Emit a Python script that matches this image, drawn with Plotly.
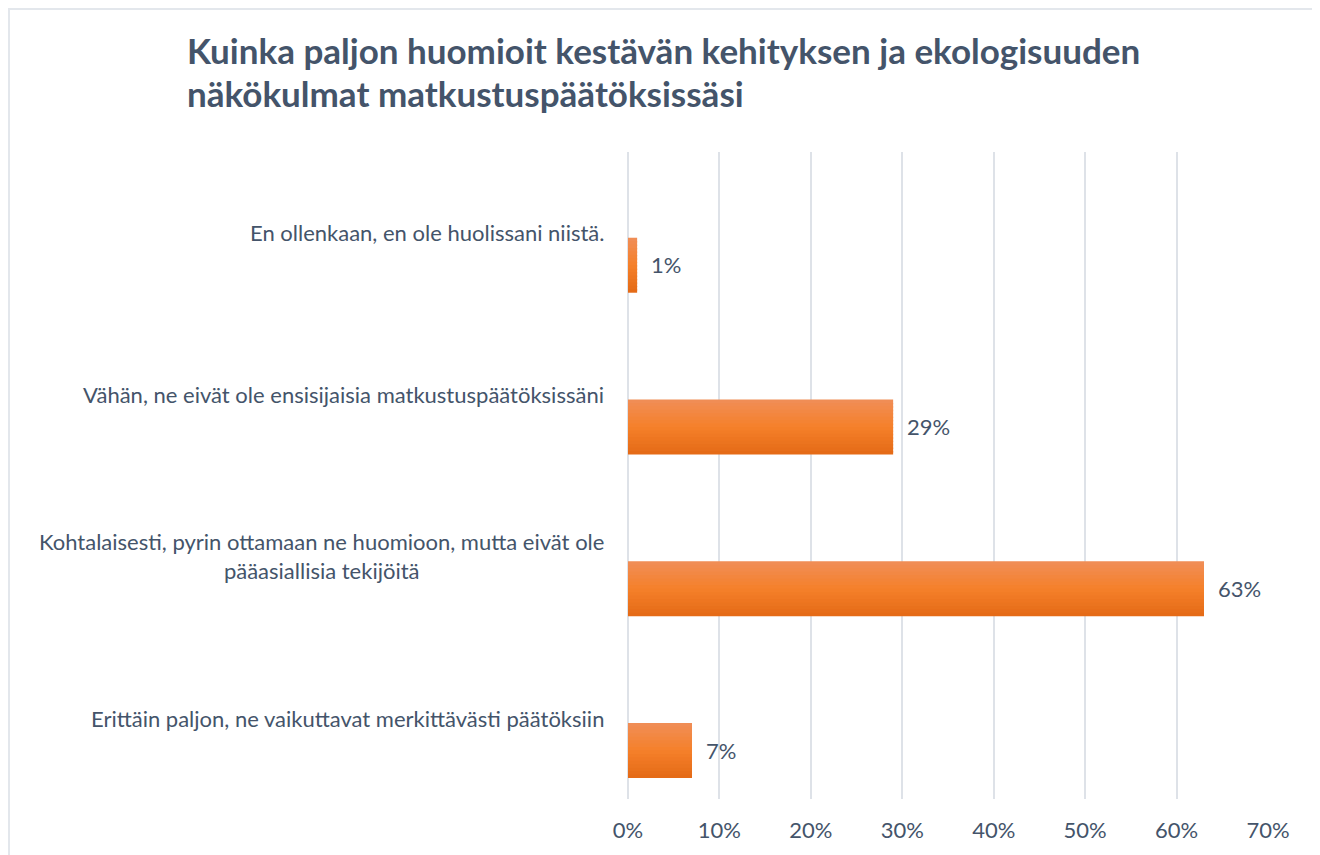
import plotly.graph_objects as go

title_lines = ["Kuinka paljon huomioit kestävän kehityksen ja ekologisuuden",
               "näkökulmat matkustuspäätöksissäsi"]
categories = [
    "En ollenkaan, en ole huolissani niistä.",
    "Vähän, ne eivät ole ensisijaisia matkustuspäätöksissäni",
    "Kohtalaisesti, pyrin ottamaan ne huomioon, mutta eivät ole<br>pääasiallisia tekijöitä",
    "Erittäin paljon, ne vaikuttavat merkittävästi päätöksiin",
]
values = [0.01, 0.29, 0.63, 0.07]
value_labels = ["1%", "29%", "63%", "7%"]
tick_vals = [0, 0.1, 0.2, 0.3, 0.4, 0.5, 0.6, 0.7]
tick_text = ["0%", "10%", "20%", "30%", "40%", "50%", "60%", "70%"]

TEXT = "#44546A"
FONT = "Lato"

# figure geometry (figure pixels; page has an 8px body margin)
W, H = 1312, 847
L, R, T, B = 620, 52, 144, 56
PW, PH = W - L - R, H - T - B


def px_x(x):
    return (x - L) / PW


def px_y(y):
    return (H - B - y) / PH


# gradient stops top -> middle -> bottom
stops = [(240, 142, 88), (245, 128, 42), (228, 106, 22)]


def lerp_color(t):
    if t < 0.5:
        a, b, u = stops[0], stops[1], t / 0.5
    else:
        a, b, u = stops[1], stops[2], (t - 0.5) / 0.5
    return "rgb(%d,%d,%d)" % tuple(round(a[i] + (b[i] - a[i]) * u) for i in range(3))


fig = go.Figure()
bar_offset = 0.03
bar_width = 0.34
n_slices = 16
step = bar_width / n_slices
for k in range(n_slices):
    w = step * 1.4 if k < n_slices - 1 else step
    fig.add_trace(go.Bar(
        x=values, y=categories, orientation="h",
        offset=bar_offset + k * step, width=w,
        marker=dict(color=lerp_color((k + 0.5) / n_slices), line=dict(width=0)),
        showlegend=False, hoverinfo="skip",
    ))

annotations = []
for cat, v, lab in zip(categories, values, value_labels):
    annotations.append(dict(
        x=v, y=cat, xref="x", yref="y", text=lab, showarrow=False,
        xanchor="left", xshift=12, yshift=-32,
        font=dict(family=FONT, size=22, color=TEXT),
    ))
    annotations.append(dict(
        x=px_x(598), y=cat, xref="paper", yref="y", text=cat, showarrow=False,
        xanchor="right", align="center",
        font=dict(family=FONT, size=22, color=TEXT),
    ))

for i, (line, ymid) in enumerate(zip(title_lines, [42, 85])):
    annotations.append(dict(
        x=px_x(177), y=px_y(ymid), xref="paper", yref="paper",
        text="<b>" + line + "</b>", showarrow=False,
        xanchor="left", yanchor="middle", align="left",
        font=dict(family=FONT, size=35, color=TEXT),
    ))

fig.update_layout(
    width=W, height=H,
    margin=dict(l=L, r=R, t=T, b=B),
    paper_bgcolor="white", plot_bgcolor="white",
    barmode="overlay",
    xaxis=dict(
        range=[0, 0.7], tickvals=tick_vals, ticktext=tick_text,
        showgrid=True, gridcolor="#DEE2E8", gridwidth=2,
        zeroline=True, zerolinecolor="#DEE2E8", zerolinewidth=2,
        showline=False, ticks="",
        ticklabelstandoff=16,
        tickfont=dict(family=FONT, size=22, color=TEXT),
    ),
    yaxis=dict(
        autorange="reversed", showticklabels=False, showgrid=False,
        zeroline=False, showline=False, ticks="",
    ),
    annotations=annotations,
    shapes=[dict(
        type="rect", xref="paper", yref="paper",
        x0=px_x(1), x1=px_x(1309),
        y0=px_y(870), y1=px_y(1),
        line=dict(color="#E3E7EC", width=2), fillcolor="rgba(0,0,0,0)",
    )],
)

fig.write_html("out.html")
